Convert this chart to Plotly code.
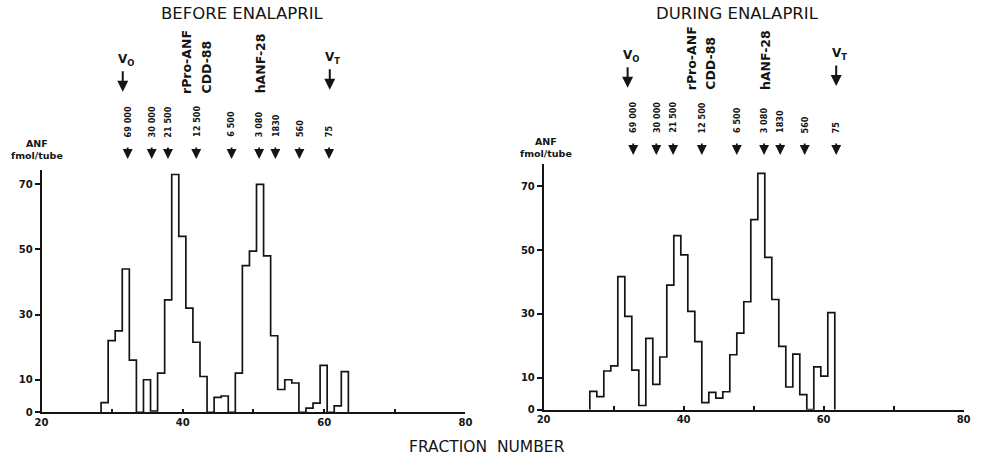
import plotly.graph_objects as go

# ---------------- data ----------------
before_fraction = list(range(29, 64))
before_anf = [3, 22, 25, 44, 16, 0, 10, 0.4, 12, 34.5, 73, 54, 32, 21.5, 11, 0,
              4.6, 5, 0, 12, 45, 49.5, 70, 48, 23.5, 7, 10, 9, 0, 1.3, 2.8, 14.4,
              0, 2, 12.5]

during_fraction = list(range(27, 62))
during_anf = [5.7, 4.1, 12.1, 13.7, 41.7, 29.2, 12.4, 1.3, 22.3, 7.9, 16.5, 39.0,
              54.5, 48.5, 30.8, 21.3, 2.2, 5.4, 3.6, 5.6, 17.2, 24, 33.8, 59.5, 74,
              47.7, 34.5, 19.8, 7.1, 17.4, 4.7, 0, 13.4, 10.5, 30.4]

mw_labels = ["69 000", "30 000", "21 500", "12 500", "6 500", "3 080", "1830", "560", "75"]
mw_before = [32.2, 35.6, 37.9, 41.9, 46.9, 50.8, 53.1, 56.5, 60.7]
mw_during = [32.8, 36.1, 38.5, 42.6, 47.6, 51.5, 53.8, 57.3, 61.8]

marker_names = ["rPro-ANF", "CDD-88", "hANF-28"]
marker_before = [41.9, 41.9, 51.0]
marker_during = [42.4, 42.4, 51.8]

vo_pos = {"before": 31.5, "during": 32.0}
vt_pos = {"before": 60.8, "during": 61.8}

x_ticks = [20, 30, 40, 50, 60, 70, 80]
x_ticktext = ["20", "", "40", "", "60", "", "80"]
y_ticks = [0, 10, 30, 50, 70]

titles = ["BEFORE ENALAPRIL", "DURING ENALAPRIL"]

# ---------------- helpers ----------------
W, H = 992, 465
INK = "#141414"
FONT = "DejaVu Sans"


def px(pix):  # paper x from pixel x
    return pix / W


def py(pix):  # paper y from pixel y (top)
    return 1 - pix / H


def step_xy(fracs, vals, off):
    xs = [fracs[0] + off]
    ys = [0]
    for f, v in zip(fracs, vals):
        xs.append(f + off)
        ys.append(v)
    xs.append(fracs[-1] + off + 1)
    ys.append(0)
    return xs, ys


fig = go.Figure()
xb, yb = step_xy(before_fraction, before_anf, -0.57)
fig.add_trace(go.Scatter(x=xb, y=yb, mode="lines", line=dict(color=INK, width=1.7, shape="hv"),
                         xaxis="x", yaxis="y", showlegend=False, hoverinfo="skip"))
xd, yd = step_xy(during_fraction, during_anf, -0.4)
fig.add_trace(go.Scatter(x=xd, y=yd, mode="lines", line=dict(color=INK, width=1.7, shape="hv"),
                         xaxis="x2", yaxis="y2", showlegend=False, hoverinfo="skip"))

tickfont = dict(family=FONT, size=10, color=INK, weight="bold")
xcommon = dict(range=[20, 80], showline=True, linecolor=INK, linewidth=1.6, ticks="inside",
               ticklen=4, tickwidth=1.5, tickcolor=INK, tickvals=x_ticks, ticktext=x_ticktext,
               tickfont=tickfont, showgrid=False, zeroline=False)
ycommon = dict(showline=True, linecolor=INK, linewidth=1.6, ticks="outside", ticklen=5,
               tickwidth=1.5, tickcolor=INK, tickvals=y_ticks, tickfont=tickfont,
               showgrid=False, zeroline=False)

fig.update_layout(
    width=W, height=H, margin=dict(l=0, r=0, t=0, b=0),
    paper_bgcolor="white", plot_bgcolor="white",
    xaxis=dict(domain=[px(35), px(465)], anchor="y", **xcommon),
    yaxis=dict(domain=[py(417.7), py(171.85)], range=[0, 74.5], anchor="x", **ycommon),
    xaxis2=dict(domain=[px(544.3), px(970.3)], anchor="y2", **xcommon),
    yaxis2=dict(domain=[py(415), py(166)], range=[0, 77], anchor="x2", **ycommon),
)

ann = []
panels = [
    ("x", 0, 239, 30, mw_before, marker_before, "before"),
    ("x2", -4, 741, 547, mw_during, marker_during, "during"),
]
for i, (xr, dy, tx, anfx, mws, mks, key) in enumerate(panels):
    # title
    ann.append(dict(text=titles[i], x=px(tx), y=py(14), xref="paper", yref="paper",
                    showarrow=False, xanchor="center", yanchor="middle",
                    font=dict(family=FONT, size=16.5, color=INK)))
    # y axis label
    ann.append(dict(text="ANF<br>fmol/tube", x=px(anfx), y=py(151.5 + dy / 2),
                    xref="paper", yref="paper", showarrow=False, xanchor="center",
                    yanchor="middle", font=dict(family=FONT, size=9.5, color=INK, weight="bold")))
    # molecular weight standards
    for lab, pos in zip(mw_labels, mws):
        ann.append(dict(text=lab, x=pos, xref=xr, y=py(141 + dy), yref="paper",
                        textangle=-90, showarrow=False, xanchor="center", yanchor="bottom",
                        font=dict(family="DejaVu Sans Condensed", size=9, color=INK,
                                  weight="bold")))
        ann.append(dict(text="", x=pos, xref=xr, y=py(161 + dy), yref="paper", showarrow=True,
                        ax=0, ay=-13, arrowhead=2, arrowsize=1.1, arrowwidth=1.8, arrowcolor=INK))
    # named markers
    for name, pos in zip(marker_names, mks):
        xs = 0
        if name == "rPro-ANF":
            xs = -9
        elif name == "CDD-88":
            xs = 10
        ann.append(dict(text=name, x=pos, xref=xr, xshift=xs, y=py(97 + dy),
                        yref="paper", textangle=-90, showarrow=False, xanchor="center",
                        yanchor="bottom", font=dict(family=FONT, size=12.5, color=INK,
                                                    weight="bold")))
    # Vo and VT
    for lab, pos, tip in (("V<sub>O</sub>", vo_pos[key], 93), ("V<sub>T</sub>", vt_pos[key], 91)):
        ann.append(dict(text=lab, x=pos, xref=xr, xshift=3, y=py(tip - 32 + dy),
                        yref="paper", showarrow=False, xanchor="center", yanchor="middle",
                        font=dict(family=FONT, size=12, color=INK, weight="bold")))
        ann.append(dict(text="", x=pos, xref=xr, y=py(tip + dy), yref="paper", showarrow=True,
                        ax=0, ay=-22, arrowhead=2, arrowsize=1.1, arrowwidth=2, arrowcolor=INK))

ann.append(dict(text="FRACTION  NUMBER", x=px(487), y=py(453), xref="paper", yref="paper",
                showarrow=False, xanchor="center", yanchor="middle",
                font=dict(family=FONT, size=15.5, color=INK)))

fig.update_layout(annotations=ann)
# remove the browser's default page margin so the figure sits at the window's corner
fig.write_html("out.html", config={"displayModeBar": False},
               post_script="document.body.style.margin='0px';")
